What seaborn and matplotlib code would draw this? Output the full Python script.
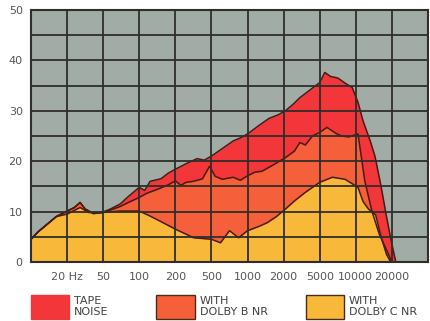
import numpy as np
import seaborn as sns
import matplotlib.pyplot as plt
from matplotlib.patches import Patch

# x positions are grid-column indices (the chart spaces 20,50,100,200... evenly)
freq_labels = ["20 Hz", "50", "100", "200", "500", "1000", "2000", "5000", "10000", "20000"]
label_pos = [1, 2, 3, 4, 5, 6, 7, 8, 9, 10]

# tape noise (top, red)
tape_x = [0, 0.2, 0.45, 0.7, 1.0, 1.2, 1.36, 1.5, 1.73, 1.96, 2.2, 2.47, 2.7, 3.0, 3.15, 3.3,
          3.6, 3.8, 4.0, 4.3, 4.6, 4.8, 5.0, 5.3, 5.6, 5.8, 6.0, 6.3, 6.6, 6.85, 7.05, 7.25,
          7.45, 7.8, 8.0, 8.14, 8.3, 8.5, 8.74, 8.9, 9.06, 9.2, 9.4, 9.53, 9.7, 9.85, 10.0, 10.1]
tape_y = [4.5, 6.0, 7.5, 9.0, 10.1, 10.8, 11.8, 10.5, 9.6, 9.8, 10.5, 11.5, 13.0, 14.8, 14.2, 16.0,
          16.5, 17.6, 18.4, 19.5, 20.5, 20.2, 21.0, 22.5, 24.0, 24.6, 25.4, 27.0, 28.5, 29.2, 30.0, 31.2,
          32.6, 34.5, 35.6, 37.6, 36.8, 36.5, 35.3, 34.6, 31.7, 28.0, 24.0, 21.0, 15.0, 9.0, 3.5, 0.3]

# with Dolby B NR (middle, orange)
dolby_b_x = [0, 0.2, 0.45, 0.7, 1.0, 1.2, 1.36, 1.5, 1.73, 1.96, 2.2, 2.47, 2.7, 3.0, 3.2, 3.5,
             3.8, 4.0, 4.15, 4.3, 4.5, 4.75, 4.95, 5.1, 5.3, 5.6, 5.8, 6.0, 6.2, 6.4, 6.7, 7.05,
             7.3, 7.45, 7.6, 7.8, 8.0, 8.2, 8.45, 8.6, 8.8, 9.06, 9.15, 9.25, 9.45, 9.65, 9.85, 9.98]
dolby_b_y = [4.5, 6.0, 7.5, 9.0, 10.1, 10.8, 11.8, 10.5, 9.6, 9.8, 10.3, 11.0, 11.8, 12.8, 13.6, 14.4,
             15.3, 16.1, 15.2, 15.8, 16.0, 16.5, 19.0, 17.0, 16.4, 16.8, 16.2, 17.1, 17.8, 18.0, 19.2, 20.7,
             22.0, 23.7, 23.2, 25.0, 25.7, 26.7, 25.5, 25.0, 24.8, 25.4, 21.0, 16.0, 10.0, 5.5, 2.4, 0.3]

# with Dolby C NR (bottom, yellow)
dolby_c_x = [0, 0.2, 0.45, 0.7, 1.0, 1.36, 1.6, 1.96, 2.47, 3.0, 3.3, 3.6, 4.0, 4.3, 4.5, 5.0,
             5.25, 5.5, 5.75, 6.0, 6.3, 6.55, 6.8, 7.05, 7.3, 7.6, 8.0, 8.35, 8.7, 9.06, 9.2, 9.35,
             9.55, 9.7, 9.85, 9.95]
dolby_c_y = [4.5, 6.0, 7.5, 9.0, 9.5, 10.8, 9.8, 9.8, 10.1, 10.1, 9.1, 8.0, 6.5, 5.5, 4.8, 4.5,
             3.8, 6.2, 4.8, 6.2, 7.0, 7.8, 9.0, 10.5, 12.1, 13.8, 15.8, 16.8, 16.4, 14.8, 12.0, 10.5,
             9.3, 5.0, 1.5, 0.2]

series = [
    ("TAPE\nNOISE", tape_x, tape_y, "#f2363a", False),
    ("WITH\nDOLBY B NR", dolby_b_x, dolby_b_y, "#f5603a", True),
    ("WITH\nDOLBY C NR", dolby_c_x, dolby_c_y, "#f8b83a", True),
]

sns.set_style("white")
plt.rcParams['font.family'] = ['DejaVu Sans']

fig = plt.figure(figsize=(4.31, 3.21), dpi=100)
ax = fig.add_axes([0.072, 0.184, 0.921, 0.785])
ax.set_facecolor("#a2aca7")

for name, xs, ys, col, _ in series:
    ax.fill_between(xs, ys, 0, color=col, linewidth=0, zorder=1)
    sns.lineplot(x=xs, y=ys, ax=ax, color="#4a1a12", linewidth=1.1, zorder=2, estimator=None, sort=False)

ax.set_xlim(0, 11)
ax.set_ylim(0, 50)
ax.set_xticks(range(12), minor=True)
ax.set_xticks(label_pos)
ax.set_xticklabels(freq_labels)
ax.set_yticks(np.arange(0, 51, 5), minor=True)
ax.set_yticks(np.arange(0, 51, 10))
ax.grid(which="minor", color="#2e2e2a", linewidth=1.3)
ax.grid(which="major", color="#2e2e2a", linewidth=1.3)
ax.set_axisbelow(False)
ax.tick_params(which="both", length=0, labelsize=8, labelcolor="#555555")
ax.tick_params(axis="x", pad=7)
ax.tick_params(axis="y", pad=6)
for s in ax.spines.values():
    s.set_color("#2e2e2a")
    s.set_linewidth(1.5)

# legend: three separate entries so each column sits where it does in the original
anchors = [0.058, 0.350, 0.696]
for (name, _, _, col, edge), x0 in zip(series, anchors):
    h = Patch(facecolor=col, edgecolor="#4a2a1a" if edge else col, linewidth=1.0)
    leg = fig.legend(handles=[h], labels=[name], loc="upper left", bbox_to_anchor=(x0, 0.097),
                     frameon=False, handlelength=3.5, handleheight=2.9, fontsize=8,
                     borderpad=0, handletextpad=0.4, labelcolor="#404040")
    for t in leg.get_texts():
        t.set_linespacing(1.05)

fig.savefig("out.png", dpi=100)
